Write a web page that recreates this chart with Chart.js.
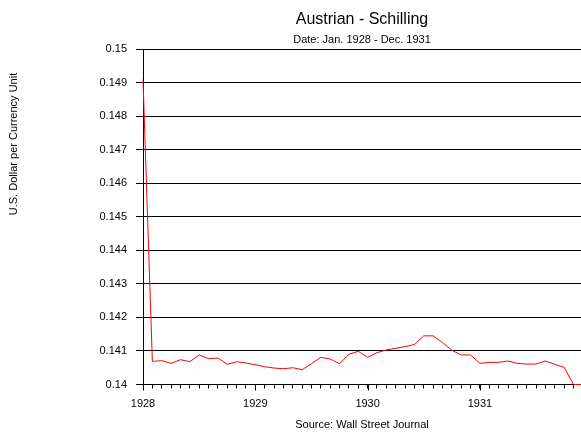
<!DOCTYPE html>
<html>
<head>
<meta charset="utf-8">
<script src="https://cdn.jsdelivr.net/npm/chart.js@4/dist/chart.umd.min.js"></script>
<style>
html,body{margin:0;padding:0;background:#fff;overflow:hidden;}
canvas{display:block;}
</style>
</head>
<body>
<canvas id="c" width="581" height="436"></canvas>
<script>
// ---- data ----
const months = [
 'Jan 1928','Feb 1928','Mar 1928','Apr 1928','May 1928','Jun 1928','Jul 1928','Aug 1928','Sep 1928','Oct 1928','Nov 1928','Dec 1928',
 'Jan 1929','Feb 1929','Mar 1929','Apr 1929','May 1929','Jun 1929','Jul 1929','Aug 1929','Sep 1929','Oct 1929','Nov 1929','Dec 1929',
 'Jan 1930','Feb 1930','Mar 1930','Apr 1930','May 1930','Jun 1930','Jul 1930','Aug 1930','Sep 1930','Oct 1930','Nov 1930','Dec 1930',
 'Jan 1931','Feb 1931','Mar 1931','Apr 1931','May 1931','Jun 1931','Jul 1931','Aug 1931','Sep 1931','Oct 1931','Nov 1931','Dec 1931'
];
const schilling = [
 0.1491, 0.14069, 0.14071, 0.14063, 0.14074, 0.14068, 0.14088, 0.14077, 0.14079, 0.14060, 0.14068, 0.14064,
 0.14059, 0.14053, 0.14049, 0.14047, 0.14050, 0.14044, 0.14062, 0.14081, 0.14076, 0.14062, 0.14090, 0.14099,
 0.14081, 0.14095, 0.14103, 0.14108, 0.14113, 0.14119, 0.14145, 0.14145, 0.14125, 0.14102, 0.14088, 0.14088,
 0.14063, 0.14066, 0.14066, 0.14070, 0.14063, 0.14061, 0.14061, 0.14070, 0.14060, 0.14051, 0.14000, 0.14000
];
const yearLabels = ['1928','1929','1930','1931'];
const yearStartIndex = [0, 12, 24, 36];
const yTickValues = [0.14,0.141,0.142,0.143,0.144,0.145,0.146,0.147,0.148,0.149,0.15];
const yTickLabels = ['0.14','0.141','0.142','0.143','0.144','0.145','0.146','0.147','0.148','0.149','0.15'];

const titleText = 'Austrian - Schilling';
const subtitleText = 'Date: Jan. 1928 - Dec. 1931';
const yTitleText = 'U.S. Dollar per Currency Unit';
const xTitleText = 'Source: Wall Street Journal';

const FONT = "'Liberation Sans', Arial, sans-serif";

const points = schilling.map((v, i) => ({x: i, y: v}));

const extras = {
  id: 'extras',
  afterDraw(chart) {
    const ctx = chart.ctx;
    const xs = chart.scales.x;
    const bottom = chart.chartArea.bottom;
    ctx.save();
    // longer year ticks
    ctx.strokeStyle = '#000';
    ctx.lineWidth = 1;
    yearStartIndex.forEach(v => {
      const px = Math.round(xs.getPixelForValue(v)) + 0.5;
      ctx.beginPath();
      ctx.moveTo(px, bottom);
      ctx.lineTo(px, bottom + 6);
      ctx.stroke();
    });
    // rotated y-axis title
    ctx.fillStyle = '#000';
    ctx.font = '11px ' + FONT;
    ctx.textAlign = 'center';
    ctx.textBaseline = 'middle';
    ctx.translate(13.5, 144);
    ctx.rotate(-Math.PI / 2);
    ctx.fillText(yTitleText, 0, 0);
    ctx.restore();
  }
};

new Chart(document.getElementById('c'), {
  type: 'line',
  data: {
    labels: months,
    datasets: [{
      label: 'Austrian Schilling',
      data: points,
      borderColor: '#ff0000',
      borderWidth: 1,
      pointRadius: 0,
      tension: 0,
      fill: false,
      clip: 2
    }]
  },
  options: {
    responsive: false,
    animation: false,
    devicePixelRatio: 1,
    layout: {padding: {left: 0, right: 0, top: 0, bottom: 0}},
    plugins: {
      legend: {display: false},
      tooltip: {enabled: false},
      title: {
        display: true, text: titleText, fullSize: false, color: '#000',
        font: {family: FONT, size: 16, weight: 'normal'},
        padding: {top: 9.5, bottom: 1.5}
      },
      subtitle: {
        display: true, text: subtitleText, fullSize: false, color: '#000',
        font: {family: FONT, size: 11, weight: 'normal'},
        padding: {top: 2.7, bottom: 2.9}
      }
    },
    scales: {
      x: {
        type: 'linear',
        min: 0,
        max: 46.8,
        afterFit(s) { s.height = 51.5; s.paddingRight = 0; s.paddingLeft = 0; },
        afterBuildTicks(s) { s.ticks = months.slice(0, 47).map((m, i) => ({value: i})); },
        grid: {drawOnChartArea: false, color: '#000', tickLength: 4, lineWidth: 1},
        border: {display: true, color: '#000', width: 1},
        ticks: {
          autoSkip: false, maxRotation: 0, minRotation: 0, padding: 9, color: '#000',
          font: {family: FONT, size: 11},
          callback(v) {
            const k = yearStartIndex.indexOf(v);
            return k >= 0 ? yearLabels[k] : '';
          }
        },
        title: {
          display: true, text: xTitleText, color: '#000',
          font: {family: FONT, size: 11},
          padding: {top: 0, bottom: 4}
        }
      },
      y: {
        type: 'linear',
        min: 0.14,
        max: 0.15,
        afterFit(s) { s.width = 143; },
        afterBuildTicks(s) { s.ticks = yTickValues.map(v => ({value: v})); },
        grid: {color: '#000', lineWidth: 1, tickLength: 7, drawTicks: true},
        border: {display: true, color: '#000', width: 1},
        ticks: {
          padding: 9, color: '#000',
          font: {family: FONT, size: 11},
          callback(v, i) { return yTickLabels[i]; }
        }
      }
    }
  },
  plugins: [extras]
});
</script>
</body>
</html>
